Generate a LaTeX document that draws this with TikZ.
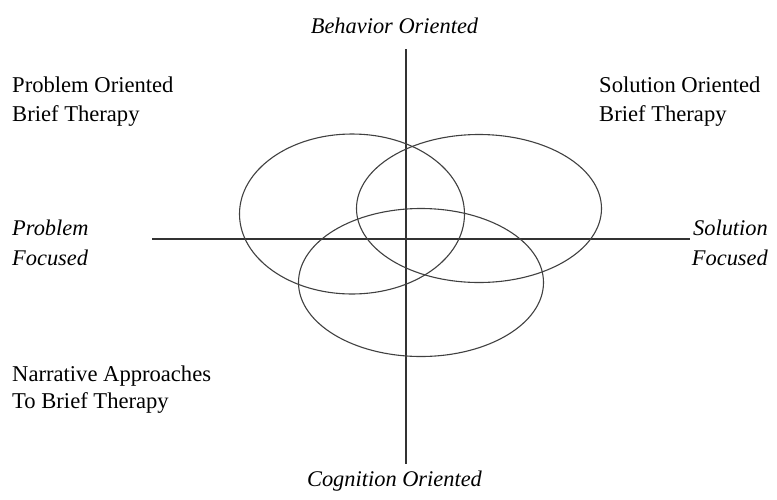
\documentclass[tikz,border=0pt]{standalone}
\usepackage{fontspec}
\setmainfont{Liberation Serif}
\begin{document}
\begin{tikzpicture}[x=1pt,y=-1pt,
  axis/.style={draw=black!80,line width=1.2pt},
  blob/.style={draw=black!75,line width=1.1pt},
  lab/.style={inner sep=0pt,font=\fontsize{22.6}{27}\selectfont},
  ilab/.style={inner sep=0pt,font=\fontsize{22.4}{27}\selectfont\itshape}]
\useasboundingbox (0,0) rectangle (777,499);
% axes
\coordinate (vtop) at (406,49);
\coordinate (vbot) at (406,464);
\coordinate (hl) at (152,239);
\coordinate (hr) at (690,239);
\draw[axis] (vtop) -- (vbot);
\draw[axis] (hl) -- (hr);
% ellipses
\draw[blob] (352,214) ellipse [x radius=112.5, y radius=80];
\draw[blob] (479,208.5) ellipse [x radius=122.5, y radius=74];
\draw[blob] (421,282.5) ellipse [x radius=122.5, y radius=74];
% labels
\node[ilab,anchor=base] (beh) at (394.5,33) {Behavior Oriented};
\node[ilab,anchor=base] (cog) at (394.5,486.5) {Cognition Oriented};
\node[lab,anchor=base west] (po1) at (12,92.5) {Problem Oriented};
\node[lab,anchor=base west] (po2) at (12,121) {Brief Therapy};
\node[lab,anchor=base west] (so1) at (599,92.5) {Solution Oriented};
\node[lab,anchor=base west] (so2) at (599,121) {Brief Therapy};
\node[lab,anchor=base west] (na1) at (12,381.5) {Narrative Approaches};
\node[lab,anchor=base west] (na2) at (12,408.5) {To Brief Therapy};
\node[ilab,anchor=base west] (pf1) at (12,235) {Problem};
\node[ilab,anchor=base west] (pf2) at (12,265) {Focused};
\node[ilab,anchor=base east] (sf1) at (768,235) {Solution};
\node[ilab,anchor=base east] (sf2) at (768,265) {Focused};
\end{tikzpicture}
\end{document}
